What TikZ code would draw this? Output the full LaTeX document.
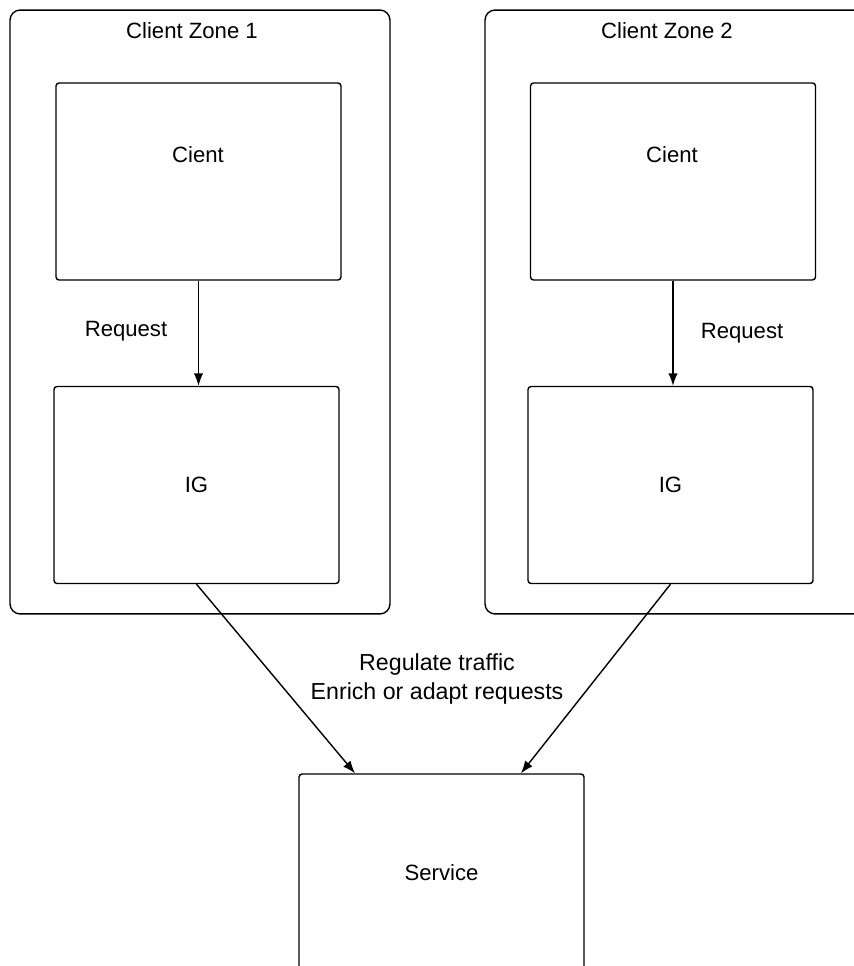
\documentclass[tikz,border=0pt]{standalone}
\usepackage{fontspec}
\setmainfont{Liberation Sans}
\usetikzlibrary{shapes, arrows.meta}

\begin{document}
\begin{tikzpicture}[x=0.02cm,y=-0.02cm,line width=0.8pt]

\tikzstyle{zone}=[rectangle, rounded corners=0.2cm, draw, inner sep=0pt, minimum width=7.6cm, minimum height=12.08cm]
\tikzstyle{box}=[rectangle, rounded corners=0.06cm, draw, inner sep=0pt, minimum width=5.7cm, minimum height=3.94cm, font=\fontsize{12.6}{16}\selectfont]
\tikzstyle{txt}=[font=\fontsize{12.6}{16}\selectfont, align=center]
\tikzstyle{flow}=[-{Latex[length=0.25cm, width=0.19cm]}]

	\useasboundingbox (0,0) rectangle (854,966);
	\clip (0,0) rectangle (854,966);

	% zones
	\node[zone] (z1) at (200,312) {};
	\node[zone] (z2) at (675,312) {};
	\node[txt] (z1t) at (192,31) {Client Zone 1};
	\node[txt] (z2t) at (667,31) {Client Zone 2};

	% clients and gateways
	\node[box] (c1) at (198.5,181.5) {};
	\node[box] (c2) at (673,181.5) {};
	\node[txt] (c1t) at (198,155) {Cient};
	\node[txt] (c2t) at (672,155) {Cient};

	\node[box] (ig1) at (196.5,485) {IG};
	\node[box] (ig2) at (670.5,485) {IG};
	\node[box] (svc) at (441.5,872.5) {Service};

	\draw[flow] (c1.south) -- (c1.south |- ig1.north);
	\draw[flow] (c2.south) -- (c2.south |- ig2.north);
	\node[txt] (r1) at (126,331) {Request};
	\node[txt] (r2) at (742,333) {Request};

	\draw[flow] (ig1.south) -- ([xshift=-1.73cm]svc.north);
	\draw[flow] (ig2.south) -- ([xshift=1.59cm]svc.north);
	\node[txt, font=\fontsize{13.2}{16}\selectfont] (reg) at (437,679) {Regulate traffic\\Enrich or adapt requests};
\end{tikzpicture}
\end{document}
